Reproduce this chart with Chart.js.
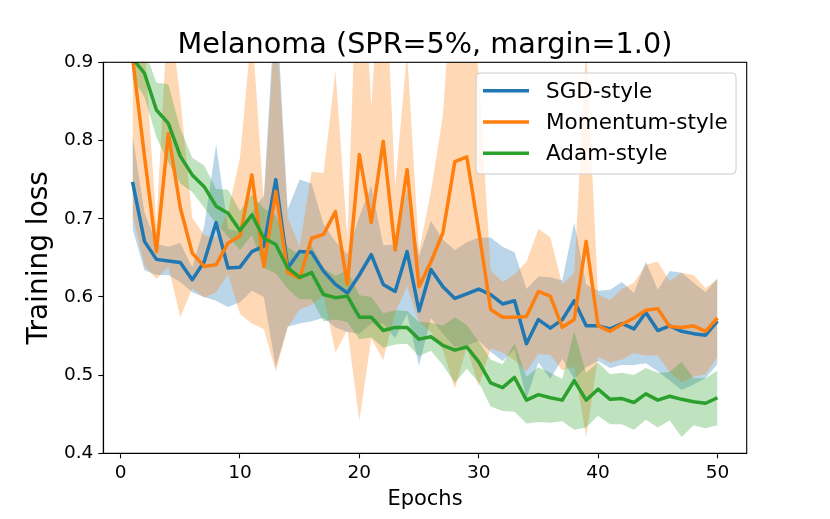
<!DOCTYPE html>
<html>
<head>
<meta charset="utf-8">
<title>Melanoma training loss</title>
<script src="https://cdn.jsdelivr.net/npm/chart.js@4.4.1/dist/chart.umd.min.js"></script>
<style>
  html, body { margin: 0; padding: 0; background: #fff; }
  canvas { display: block; }
</style>
</head>
<body>
<canvas id="lossChart" width="830" height="519"></canvas>
<script>
// epochs on the x axis
const epochs = [1, 2, 3, 4, 5, 6, 7, 8, 9, 10,
    11, 12, 13, 14, 15, 16, 17, 18, 19, 20,
    21, 22, 23, 24, 25, 26, 27, 28, 29, 30,
    31, 32, 33, 34, 35, 36, 37, 38, 39, 40,
    41, 42, 43, 44, 45, 46, 47, 48, 49, 50];

const xTicks = [0, 10, 20, 30, 40, 50];
const yTicks = [0.4, 0.5, 0.6, 0.7, 0.8, 0.9];

// mean training loss per run style
const sgdMean = [0.747, 0.671, 0.648, 0.646, 0.644, 0.622, 0.645, 0.695, 0.637, 0.638,
    0.658, 0.665, 0.750, 0.637, 0.658, 0.657, 0.633, 0.616, 0.605, 0.628,
    0.654, 0.616, 0.607, 0.658, 0.582, 0.635, 0.613, 0.598, 0.604, 0.610,
    0.603, 0.591, 0.595, 0.540, 0.571, 0.560, 0.571, 0.595, 0.563, 0.563,
    0.559, 0.566, 0.559, 0.580, 0.557, 0.563, 0.556, 0.553, 0.551, 0.569];

const momentumMean = [0.905, 0.780, 0.658, 0.809, 0.714, 0.656, 0.639, 0.641, 0.669, 0.678,
    0.756, 0.639, 0.735, 0.631, 0.624, 0.675, 0.680, 0.709, 0.616, 0.782,
    0.695, 0.799, 0.660, 0.763, 0.613, 0.645, 0.682, 0.773, 0.779, 0.685,
    0.584, 0.574, 0.574, 0.575, 0.607, 0.601, 0.561, 0.571, 0.671, 0.563,
    0.556, 0.565, 0.573, 0.583, 0.585, 0.562, 0.561, 0.563, 0.556, 0.573];

const adamMean = [0.905, 0.886, 0.839, 0.822, 0.780, 0.756, 0.741, 0.716, 0.707, 0.685,
    0.705, 0.675, 0.667, 0.637, 0.625, 0.631, 0.603, 0.599, 0.601, 0.574,
    0.574, 0.557, 0.561, 0.561, 0.546, 0.549, 0.538, 0.532, 0.536, 0.517,
    0.490, 0.484, 0.497, 0.468, 0.475, 0.471, 0.468, 0.493, 0.468, 0.482,
    0.469, 0.470, 0.465, 0.476, 0.468, 0.473, 0.469, 0.466, 0.464, 0.471];

// spread (standard deviation) around each mean
const sgdStd = [0.060, 0.037, 0.020, 0.018, 0.025, 0.016, 0.045, 0.100, 0.050, 0.045,
    0.050, 0.065, 0.240, 0.075, 0.092, 0.088, 0.060, 0.055, 0.050, 0.075,
    0.088, 0.050, 0.060, 0.080, 0.070, 0.062, 0.060, 0.062, 0.066, 0.066,
    0.073, 0.073, 0.062, 0.070, 0.055, 0.065, 0.050, 0.100, 0.053, 0.045,
    0.050, 0.053, 0.046, 0.065, 0.052, 0.070, 0.075, 0.065, 0.055, 0.055];

const momentumStd = [0.200, 0.140, 0.035, 0.170, 0.140, 0.045, 0.040, 0.035, 0.040, 0.100,
    0.190, 0.080, 0.230, 0.070, 0.040, 0.085, 0.078, 0.180, 0.058, 0.340,
    0.148, 0.280, 0.080, 0.150, 0.045, 0.090, 0.150, 0.290, 0.243, 0.200,
    0.050, 0.045, 0.055, 0.070, 0.080, 0.075, 0.055, 0.060, 0.250, 0.040,
    0.040, 0.045, 0.045, 0.058, 0.060, 0.058, 0.070, 0.065, 0.055, 0.050];

const adamStd = [0.025, 0.030, 0.035, 0.050, 0.035, 0.022, 0.027, 0.022, 0.030, 0.025,
    0.026, 0.038, 0.037, 0.027, 0.028, 0.034, 0.034, 0.028, 0.033, 0.028,
    0.026, 0.022, 0.022, 0.021, 0.022, 0.018, 0.025, 0.042, 0.028, 0.026,
    0.030, 0.030, 0.044, 0.030, 0.035, 0.032, 0.027, 0.063, 0.035, 0.034,
    0.032, 0.033, 0.035, 0.033, 0.035, 0.031, 0.048, 0.030, 0.032, 0.035];

const chartTitle = 'Melanoma (SPR=5%, margin=1.0)';
const FONT = 'DejaVu Sans';

function points(values) {
    return epochs.map((e, i) => ({ x: e, y: values[i] }));
}

function shifted(mean, std, sign) {
    return mean.map((m, i) => m + sign * std[i]);
}

// upper edge (invisible) + lower edge filled up to it
function bandPair(mean, std, fillColor, order) {
    const upper = {
        label: '_upper',
        data: points(shifted(mean, std, 1)),
        borderColor: 'rgba(0,0,0,0)',
        borderWidth: 0,
        pointRadius: 0,
        fill: false,
        order: order
    };
    const lower = {
        label: '_lower',
        data: points(shifted(mean, std, -1)),
        borderColor: 'rgba(0,0,0,0)',
        borderWidth: 0,
        pointRadius: 0,
        backgroundColor: fillColor,
        fill: '-1',
        order: order
    };
    return [upper, lower];
}

function meanLine(label, mean, color, order) {
    return {
        label: label,
        data: points(mean),
        borderColor: color,
        backgroundColor: color,
        borderWidth: 3.5,
        pointRadius: 0,
        fill: false,
        clip: 0,
        order: order
    };
}

const datasets = [
    ...bandPair(sgdMean, sgdStd, 'rgba(31,119,180,0.3)', 6),
    ...bandPair(momentumMean, momentumStd, 'rgba(255,127,14,0.3)', 5),
    ...bandPair(adamMean, adamStd, 'rgba(44,160,44,0.3)', 4),
    meanLine('SGD-style', sgdMean, '#1f77b4', 3),
    meanLine('Momentum-style', momentumMean, '#ff7f0e', 2),
    meanLine('Adam-style', adamMean, '#2ca02c', 1)
];

// full box around the plot, like matplotlib spines, plus the title over the axes
const frame = {
    id: 'frame',
    afterDatasetsDraw(chart) {
        const a = chart.chartArea;
        const ctx = chart.ctx;
        ctx.save();
        ctx.strokeStyle = '#000';
        ctx.lineWidth = 1.1;
        ctx.strokeRect(a.left, a.top, a.right - a.left, a.bottom - a.top);
        ctx.font = '28.7px "' + FONT + '"';
        ctx.fillStyle = '#000';
        ctx.textAlign = 'center';
        ctx.textBaseline = 'alphabetic';
        ctx.fillText(chartTitle, (a.left + a.right) / 2, 52.7);
        ctx.restore();
    }
};

// legend box in upper right of the axes
const boxLegend = {
    id: 'boxLegend',
    afterDraw(chart) {
        const ctx = chart.ctx;
        const lines = chart.data.datasets.filter(d => !d.label.startsWith('_'));
        const x = 476, y = 73, w = 260, h = 101, r = 4;
        ctx.save();
        ctx.beginPath();
        ctx.roundRect(x, y, w, h, r);
        ctx.fillStyle = 'rgba(255,255,255,0.8)';
        ctx.fill();
        ctx.strokeStyle = '#cccccc';
        ctx.lineWidth = 1;
        ctx.stroke();
        ctx.font = '21.5px "' + FONT + '"';
        ctx.textBaseline = 'middle';
        ctx.textAlign = 'left';
        lines.forEach((d, i) => {
            const ry = 90.7 + i * 31.3;
            ctx.beginPath();
            ctx.moveTo(483, ry);
            ctx.lineTo(529, ry);
            ctx.strokeStyle = d.borderColor;
            ctx.lineWidth = 3.5;
            ctx.stroke();
            ctx.fillStyle = '#000';
            ctx.fillText(d.label, 546, ry + 1.4);
        });
        ctx.restore();
    }
};

const tickGrid = {
    display: true,
    drawOnChartArea: false,
    drawTicks: true,
    tickLength: 5,
    tickColor: '#000',
    tickWidth: 1.1,
    color: '#000'
};

new Chart(document.getElementById('lossChart'), {
    type: 'line',
    data: { datasets: datasets },
    options: {
        responsive: false,
        animation: false,
        devicePixelRatio: 1,
        elements: { line: { tension: 0, borderJoinStyle: 'round' } },
        layout: { padding: { left: 0, right: 83.3, top: 62.3, bottom: 0 } },
        plugins: {
            legend: { display: false },
            tooltip: { enabled: false },
            title: { display: false }
        },
        scales: {
            x: {
                type: 'linear',
                min: -1.45,
                max: 52.45,
                afterBuildTicks: s => { s.ticks = xTicks.map(v => ({ value: v })); },
                afterFit: s => { s.height = 65.7; },
                ticks: {
                    color: '#000',
                    font: { family: FONT, size: 18.5 },
                    padding: 4,
                    maxRotation: 0,
                    autoSkip: false
                },
                grid: tickGrid,
                border: { display: true, color: '#000', width: 1.1 },
                title: {
                    display: true,
                    text: 'Epochs',
                    color: '#000',
                    font: { family: FONT, size: 21 },
                    padding: { top: 0, bottom: 6.7 }
                }
            },
            y: {
                type: 'linear',
                min: 0.4,
                max: 0.9,
                afterBuildTicks: s => { s.ticks = yTicks.map(v => ({ value: v })); },
                afterFit: s => { s.width = 103.3; },
                ticks: {
                    color: '#000',
                    font: { family: FONT, size: 18.5 },
                    padding: 5,
                    callback: v => v.toFixed(1)
                },
                grid: tickGrid,
                border: { display: true, color: '#000', width: 1.1 },
                title: {
                    display: true,
                    text: 'Training loss',
                    color: '#000',
                    font: { family: FONT, size: 28 },
                    padding: { top: 23, bottom: 0 }
                }
            }
        }
    },
    plugins: [frame, boxLegend]
});
</script>
</body>
</html>
